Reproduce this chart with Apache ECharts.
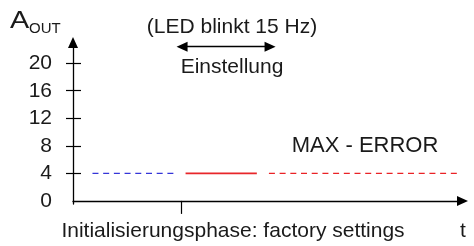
<!DOCTYPE html>
<html>
<head>
<meta charset="utf-8">
<script src="https://cdn.jsdelivr.net/npm/echarts@6/dist/echarts.min.js"></script>
<style>html,body{margin:0;padding:0;background:#fff}#c{width:474px;height:246px}</style>
</head>
<body>
<div id="c"></div>
<script>
// ---- data ----
const yTickLabels = [0, 4, 8, 12, 16, 20];
const yTickMarks = [4, 8, 12, 16, 20];
const xTickMarks = [27.9];
const outputLevel = 4;
const initSegmentX = [5.0, 26.2];      // blue dashed (initialisation)
const settingSegmentX = [28.9, 47.2];  // red solid (Einstellung)
const errorSegmentX = [50.3, 99.5];    // red dashed (MAX - ERROR)
const arrowSpanX = [28.0, 50.6];
const arrowLevel = 22.4;

const FONT = "'Liberation Sans', Arial, sans-serif";
const chart = echarts.init(document.getElementById('c'), null, {renderer: 'canvas'});

function seg(xs, y) { return xs.map(x => [x, y]); }

const option = {
  animation: false,
  backgroundColor: '#fff',
  grid: {left: 73, right: 11.5, top: 42.5, bottom: 42, containLabel: false},
  xAxis: {
    type: 'value', min: 0, max: 100,
    splitLine: {show: false},
    axisLine: {show: true, lineStyle: {color: '#000', width: 1.3}, symbol: ['none', 'triangle'], symbolSize: [10, 11]},
    axisTick: {show: true, customValues: xTickMarks, length: 13, lineStyle: {color: '#000', width: 1.2}},
    axisLabel: {show: false}
  },
  yAxis: [{
    type: 'value', min: -0.45, max: 23, position: 'left',
    splitLine: {show: false},
    axisLine: {show: true, onZero: false, lineStyle: {color: '#000', width: 1.3}, symbol: ['none', 'triangle'], symbolSize: [10, 11]},
    axisTick: {show: true, customValues: yTickMarks, length: 7, lineStyle: {color: '#000', width: 1.2}},
    axisLabel: {show: true, customValues: yTickLabels, margin: 21, fontSize: 21, fontFamily: FONT, color: '#1a1a1a'}
  }, {
    type: 'value', min: -0.45, max: 23, position: 'left',
    splitLine: {show: false},
    axisLine: {show: false},
    axisTick: {show: true, inside: true, customValues: yTickMarks, length: 8, lineStyle: {color: '#000', width: 1.2}},
    axisLabel: {show: false}
  }],
  series: [
    {type: 'line', yAxisIndex: 0, data: seg(initSegmentX, outputLevel), symbol: 'none',
     lineStyle: {color: '#3535d8', width: 1.3, type: [6, 4.7]}},
    {type: 'line', yAxisIndex: 0, data: seg(settingSegmentX, outputLevel), symbol: 'none',
     lineStyle: {color: '#e8262a', width: 1.8}},
    {type: 'line', yAxisIndex: 0, data: seg(errorSegmentX, outputLevel), symbol: 'none',
     lineStyle: {color: '#ea2226', width: 1.4, type: [6, 4.7]}},
    {type: 'line', yAxisIndex: 0, data: [], symbol: 'none',
     markLine: {silent: true, symbol: ['triangle', 'triangle'], symbolSize: [10, 11], label: {show: false},
       lineStyle: {color: '#000', width: 1.3, type: 'solid'},
       data: [[{coord: [arrowSpanX[0], arrowLevel]}, {coord: [arrowSpanX[1], arrowLevel]}]]}}
  ],
  graphic: [
    {type: 'text', x: 10, y: 33, scaleX: 1.2, style: {text: 'A', font: '24px ' + FONT, fill: '#1a1a1a', align: 'left', verticalAlign: 'bottom'}},
    {type: 'text', x: 29, y: 36, style: {text: 'OUT', font: '15px ' + FONT, fill: '#1a1a1a', align: 'left', verticalAlign: 'bottom'}},
    {type: 'text', x: 232, y: 27, style: {text: '(LED blinkt 15 Hz)', font: '21px ' + FONT, fill: '#1a1a1a', align: 'center', verticalAlign: 'middle'}},
    {type: 'text', x: 232, y: 67, style: {text: 'Einstellung', font: '21px ' + FONT, fill: '#1a1a1a', align: 'center', verticalAlign: 'middle'}},
    {type: 'text', x: 365, y: 146, style: {text: 'MAX - ERROR', font: '22px ' + FONT, fill: '#1a1a1a', align: 'center', verticalAlign: 'middle'}},
    {type: 'text', x: 233, y: 231, style: {text: 'Initialisierungsphase: factory settings', font: '21px ' + FONT, fill: '#1a1a1a', align: 'center', verticalAlign: 'middle'}},
    {type: 'text', x: 463, y: 231, style: {text: 't', font: '21px ' + FONT, fill: '#1a1a1a', align: 'center', verticalAlign: 'middle'}}
  ]
};
chart.setOption(option);
</script>
</body>
</html>
